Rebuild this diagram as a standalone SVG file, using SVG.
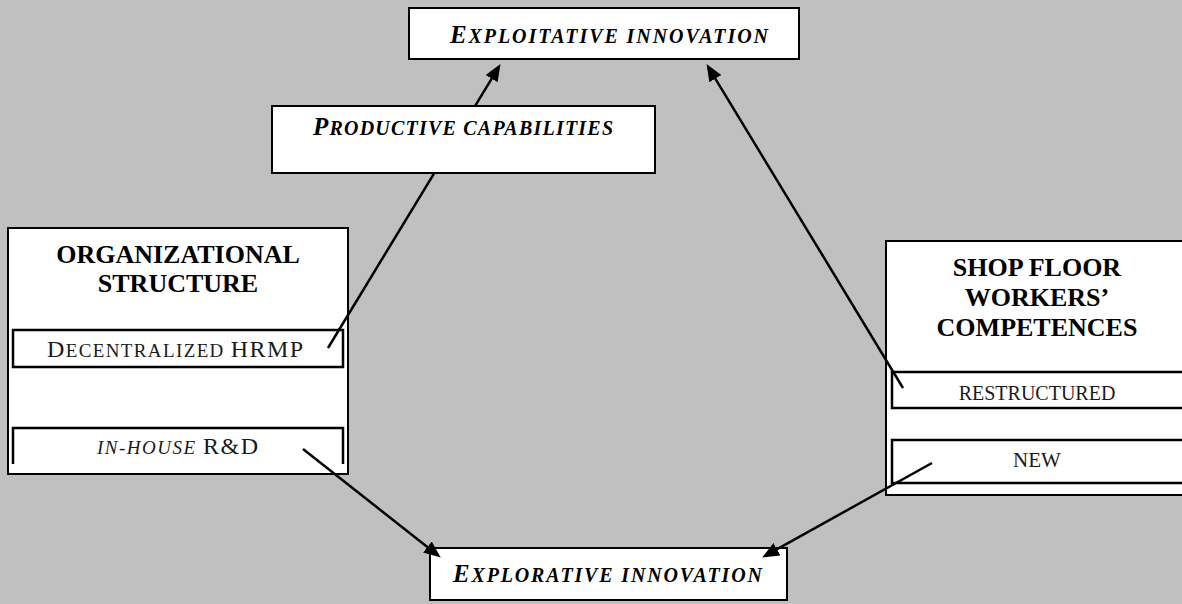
<svg xmlns="http://www.w3.org/2000/svg" width="1182" height="604" viewBox="0 0 1182 604">
<defs>
<style>
.bg{fill:#c0c0c0}
.box{fill:#fff;stroke:#000;stroke-width:2}
.sub{fill:none;stroke:#000;stroke-width:2.5}
.conn{stroke:#000;stroke-width:2.5;fill:none;marker-end:url(#ah)}
.ttl{font-family:"Liberation Serif",serif;font-weight:bold;font-size:26px;fill:#000;text-anchor:middle}
.inn{font-family:"Liberation Serif",serif;font-weight:bold;font-style:italic;fill:#000}
.lab{font-family:"Liberation Serif",serif;fill:#1a1a1a}
.cap{font-size:25px}
.sc{font-size:20px}
</style>
<marker id="ah" markerUnits="userSpaceOnUse" markerWidth="18" markerHeight="15" refX="8" refY="7" orient="auto">
<path d="M0,0 L17,7 L0,14 z" fill="#000"/>
</marker>
</defs>
<rect class="bg" x="0" y="0" width="1182" height="604"/>

<g id="org">
<rect class="box" x="8" y="228" width="340" height="246"/>
<text class="ttl" x="178" y="263">ORGANIZATIONAL</text>
<text class="ttl" x="178" y="292">STRUCTURE</text>
<g id="hrmp">
<rect class="sub" x="13" y="330" width="330" height="37" fill="#fff"/>
<text class="lab" x="47" y="357" textLength="256" lengthAdjust="spacing"><tspan font-size="24">D</tspan><tspan font-size="19">ECENTRALIZED </tspan><tspan font-size="24">HRMP</tspan></text>
</g>
<g id="rnd">
<path class="sub" d="M13,464 V428 H343 V464"/>
<text class="lab" x="97" y="454" textLength="161" lengthAdjust="spacing"><tspan font-size="19" font-style="italic">IN-HOUSE </tspan><tspan font-size="24">R&amp;D</tspan></text>
</g>
</g>

<g id="shop">
<rect class="box" x="886" y="241" width="310" height="254"/>
<text class="ttl" x="1037" y="276">SHOP FLOOR</text>
<text class="ttl" x="1037" y="306">WORKERS’</text>
<text class="ttl" x="1037" y="336">COMPETENCES</text>
<g id="restructured">
<rect class="sub" x="892" y="372" width="300" height="36"/>
<text class="lab" x="1037" y="400" font-size="20" text-anchor="middle">RESTRUCTURED</text>
</g>
<g id="new">
<rect class="sub" x="892" y="440" width="300" height="43"/>
<text class="lab" x="1037" y="467" font-size="21" text-anchor="middle">NEW</text>
</g>
</g>

<g id="explorative">
<rect class="box" x="430" y="548" width="357" height="52"/>
<text class="inn" x="453" y="582" textLength="309" lengthAdjust="spacing"><tspan class="cap">E</tspan><tspan class="sc">XPLORATIVE INNOVATION</tspan></text>
</g>

<g id="exploitative">
<rect class="box" x="409" y="8" width="390" height="51"/>
<text class="inn" x="450" y="43" textLength="318" lengthAdjust="spacing"><tspan class="cap">E</tspan><tspan class="sc">XPLOITATIVE INNOVATION</tspan></text>
</g>

<g id="connectors">
<line class="conn" x1="328" y1="348" x2="495.8" y2="71.8"/>
<line class="conn" x1="903" y1="388" x2="711.2" y2="71.8"/>
<line class="conn" x1="303" y1="449" x2="433.7" y2="552"/>
<line class="conn" x1="932" y1="463" x2="770" y2="553.1"/>
</g>

<g id="productive">
<rect class="box" x="272" y="106" width="383" height="67"/>
<text class="inn" x="313" y="135" textLength="300" lengthAdjust="spacing"><tspan class="cap">P</tspan><tspan class="sc">RODUCTIVE CAPABILITIES</tspan></text>
</g>
</svg>
